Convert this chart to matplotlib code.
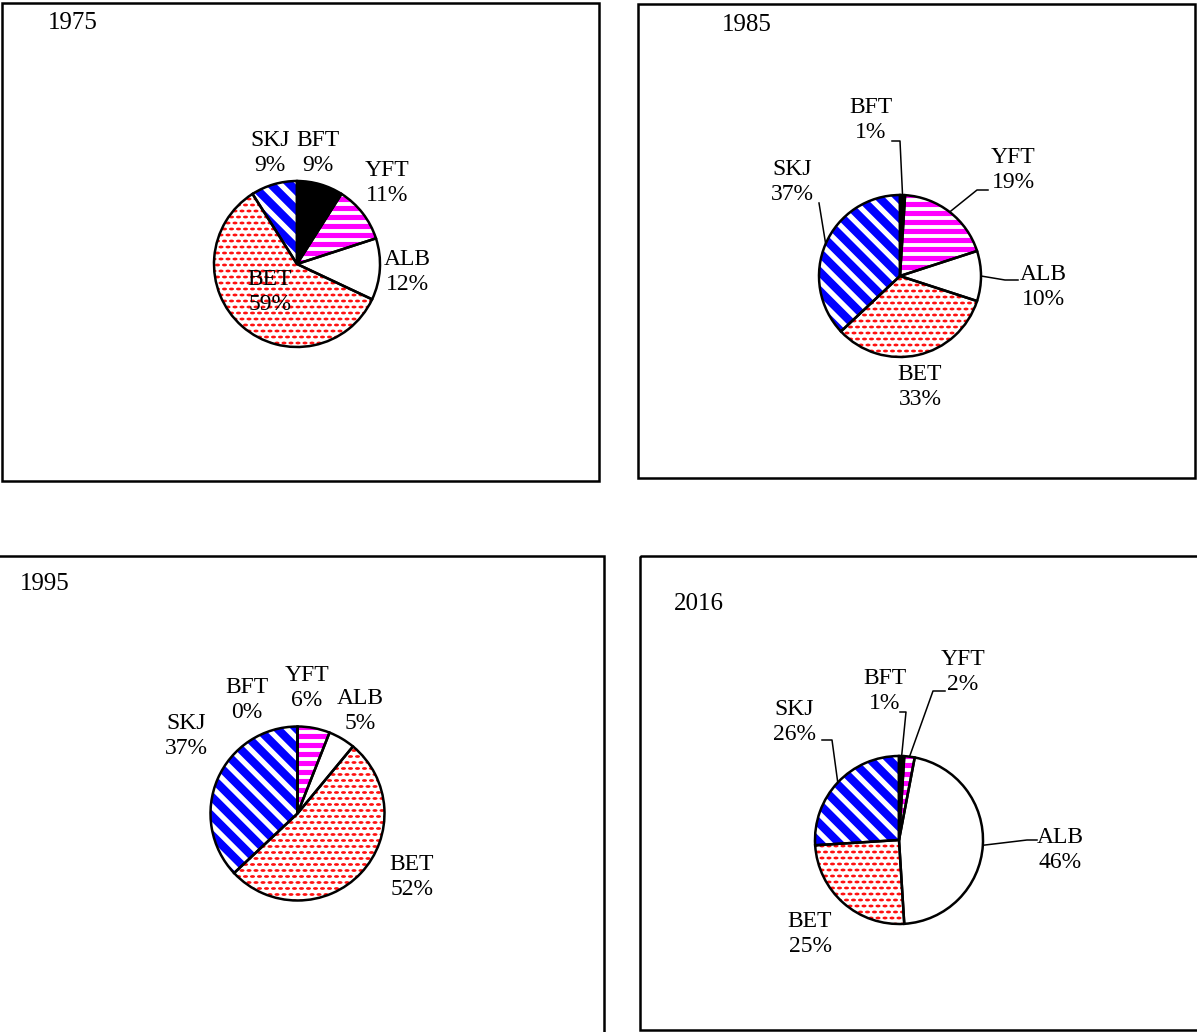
import numpy as np
import matplotlib.pyplot as plt
from matplotlib.patches import Rectangle
from matplotlib.collections import LineCollection, EllipseCollection

W, H = 1197, 1032

species = ['BFT', 'YFT', 'ALB', 'BET', 'SKJ']
years = ['1975', '1985', '1995', '2016']
share_1975 = [9, 11, 12, 59, 9]
share_1985 = [1, 19, 10, 33, 37]
share_1995 = [0, 6, 5, 52, 37]
share_2016 = [1, 2, 46, 25, 26]
shares = [share_1975, share_1985, share_1995, share_2016]

face = {'BFT': 'black', 'YFT': '#ff00ff', 'ALB': 'white',
        'BET': 'white', 'SKJ': '#0000ff'}

# layout in image pixels (x to the right, y downwards)
panels = [(2, 3, 599, 481), (638, 4, 1195, 478),
          (-3, 556, 604, 1033), (640, 556, 1202, 1030)]
pies = [(297, 264, 83), (900, 276, 81), (297.5, 813.5, 87), (899, 840, 84)]
year_pos = [(48, 23), (722, 25), (20, 584), (674, 604)]
label_pos = [
    {'SKJ': (270, 153), 'BFT': (318, 153), 'YFT': (387, 183),
     'ALB': (407, 272), 'BET': (270, 292)},
    {'BFT': (871, 120), 'YFT': (1013, 170), 'ALB': (1043, 287),
     'BET': (920, 387), 'SKJ': (792, 182)},
    {'BFT': (247, 700), 'YFT': (307, 688), 'ALB': (360, 711),
     'SKJ': (186, 736), 'BET': (412, 877)},
    {'SKJ': (794, 722), 'BFT': (885, 691), 'YFT': (963, 672),
     'ALB': (1060, 850), 'BET': (810, 934)},
]
# leader line tails (label end first), the pie end comes from the wedge angle
leaders = [
    {},
    {'BFT': [(892, 141), (900, 141)], 'YFT': [(988, 190), (977, 190)],
     'ALB': [(1018, 280), (1005, 280)], 'SKJ': [(819, 203)]},
    {},
    {'SKJ': [(822, 740), (832, 740)], 'BFT': [(900, 712), (906, 712)],
     'YFT': [(945, 691), (933, 691)], 'ALB': [(1037, 840), (1027, 840)]},
]


def fill_pattern(ax, wedge, name, cx, cy, r):
    """Draw the Excel-like fill pattern of a species, clipped to its wedge."""
    coll = None
    if name == 'SKJ':
        step = 13.5 * np.sqrt(2)
        cs = np.arange(cx - cy - 2 * r, cx - cy + 2 * r, step)
        t0, t1 = cy - 2 * r, cy + 2 * r
        segs = [[(c + t0, t0), (c + t1, t1)] for c in cs]
        coll = LineCollection(segs, colors='white', linewidths=3.8)
    elif name == 'YFT':
        ys = np.arange(cy - r - 4, cy + r + 9, 9)
        segs = [[(cx - r - 5, y), (cx + r + 5, y)] for y in ys]
        coll = LineCollection(segs, colors='white', linewidths=2.8)
    elif name == 'BET':
        pts = []
        for j, y in enumerate(np.arange(cy - r - 6, cy + r + 6, 6)):
            for x in np.arange(cx - r - 7, cx + r + 7, 7):
                pts.append((x + (j % 2) * 3.5, y))
        coll = EllipseCollection(5, 2.8, 0, units='xy', offsets=pts,
                                 offset_transform=ax.transData,
                                 facecolors='#ff1010', edgecolors='none')
    if coll is not None:
        coll.set_zorder(2)
        ax.add_collection(coll)
        coll.set_clip_path(wedge)


plt.rcParams['font.family'] = ['Liberation Serif', 'DejaVu Serif']
fig = plt.figure(figsize=(W / 100, H / 100), dpi=100)
ax = fig.add_axes([0, 0, 1, 1])

for k, year in enumerate(years):
    vals = shares[k]
    cx, cy, r = pies[k]
    x0, y0, x1, y1 = panels[k]
    ax.add_patch(Rectangle((x0, y0), x1 - x0, y1 - y0, fill=False,
                           edgecolor='black', linewidth=1.8, clip_on=False))
    ax.text(year_pos[k][0], year_pos[k][1], year, fontsize=18,
            ha='left', va='center')

    # y axis points down, so counterclock in data is clockwise on screen
    wedges, _ = ax.pie(vals, colors=[face[s] for s in species],
                       startangle=-90, counterclock=True, radius=r,
                       center=(cx, cy), frame=True,
                       wedgeprops=dict(linewidth=0, zorder=1))
    for w, name in zip(wedges, species):
        fill_pattern(ax, w, name, cx, cy, r)
    ax.pie(vals, startangle=-90, counterclock=True, radius=r,
           center=(cx, cy), frame=True,
           wedgeprops=dict(fill=False, edgecolor='black', linewidth=1.8,
                           zorder=3))

    total = float(sum(vals))
    ends = np.cumsum(vals)
    for i, name in enumerate(species):
        lx, ly = label_pos[k][name]
        ax.text(lx, ly, f'{name}\n{vals[i]}%', fontsize=17, ha='center',
                va='center', linespacing=1.3, zorder=4)
        if name in leaders[k]:
            a = 2 * np.pi * (ends[i] - vals[i] / 2) / total
            tip = (cx + r * np.sin(a), cy - r * np.cos(a))
            pts = leaders[k][name] + [tip]
            ax.plot([p[0] for p in pts], [p[1] for p in pts],
                    color='black', linewidth=1.1, zorder=4)

ax.set_xlim(0, W)
ax.set_ylim(H, 0)
ax.set_aspect('auto')
ax.set_axis_off()

fig.savefig('out.png', dpi=100)
